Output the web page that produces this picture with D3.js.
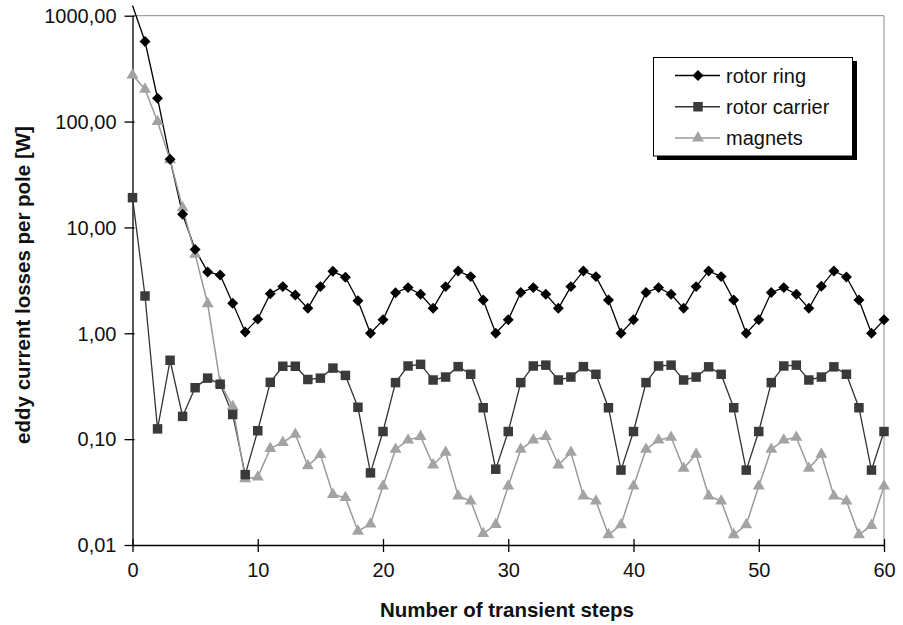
<!DOCTYPE html>
<html>
<head>
<meta charset="utf-8">
<script src="https://cdn.jsdelivr.net/npm/d3@7"></script>
<style>
  html, body { margin: 0; padding: 0; background: #fff; }
  svg { display: block; }
  text { font-family: Arial, "Liberation Sans", sans-serif; }
</style>
</head>
<body>
<svg id="chart" width="903" height="625"></svg>
<script>
const steps = d3.range(0, 61);
const rotorRing = [1250, 570, 166, 44, 13.3, 6.2, 3.8, 3.55, 1.92, 1.03,
  1.36, 2.36, 2.76, 2.30, 1.72, 2.76, 3.85, 3.38, 2.03, 1.00,
  1.34, 2.42, 2.70, 2.34, 1.72, 2.76, 3.88, 3.43, 2.06, 1.00,
  1.34, 2.43, 2.70, 2.34, 1.72, 2.76, 3.88, 3.43, 2.06, 1.00,
  1.34, 2.43, 2.70, 2.34, 1.72, 2.76, 3.88, 3.43, 2.06, 1.00,
  1.34, 2.43, 2.70, 2.34, 1.72, 2.78, 3.88, 3.40, 2.06, 1.00,
  1.34];
const rotorCarrier = [19.1, 2.25, 0.125, 0.556, 0.164, 0.306, 0.377, 0.33, 0.171, 0.0462,
  0.12, 0.344, 0.488, 0.488, 0.366, 0.377, 0.469, 0.40, 0.20, 0.048,
  0.118, 0.342, 0.491, 0.509, 0.362, 0.386, 0.484, 0.41, 0.198, 0.052,
  0.118, 0.342, 0.491, 0.50, 0.362, 0.386, 0.484, 0.41, 0.198, 0.051,
  0.118, 0.342, 0.491, 0.50, 0.362, 0.386, 0.482, 0.41, 0.198, 0.051,
  0.118, 0.342, 0.491, 0.50, 0.362, 0.386, 0.482, 0.41, 0.198, 0.051,
  0.118];
const magnets = [275, 202, 100, 43.6, 15.3, 5.56, 1.90, 0.339, 0.203, 0.0422,
  0.0438, 0.0817, 0.093, 0.111, 0.056, 0.0714, 0.030, 0.028, 0.0135, 0.0158,
  0.036, 0.080, 0.098, 0.106, 0.057, 0.075, 0.029, 0.026, 0.0128, 0.0156,
  0.036, 0.080, 0.098, 0.106, 0.057, 0.075, 0.029, 0.026, 0.0125, 0.0155,
  0.036, 0.080, 0.098, 0.104, 0.053, 0.072, 0.029, 0.026, 0.0125, 0.0155,
  0.036, 0.080, 0.098, 0.104, 0.053, 0.072, 0.029, 0.026, 0.0125, 0.0153,
  0.036];
const yTicks = [0.01, 0.1, 1, 10, 100, 1000];
const yTickLabels = ["0,01", "0,10", "1,00", "10,00", "100,00", "1000,00"];
const xTicks = [0, 10, 20, 30, 40, 50, 60];
const seriesNames = ["rotor ring", "rotor carrier", "magnets"];

(function () {
const series = [
  {name: seriesNames[0], values: rotorRing, line: "#000", fill: "#000", shape: d3.symbolSquare, size: 60, rot: 45, lw: 1.3},
  {name: seriesNames[1], values: rotorCarrier, line: "#333", fill: "#3a3a3a", shape: d3.symbolSquare, size: 90, rot: 0, lw: 1.3},
  {name: seriesNames[2], values: magnets, line: "#9a9a9a", fill: "#a3a3a3", shape: d3.symbolTriangle, size: 62, rot: 0, lw: 1.5}
];

const svg = d3.select("#chart");
const pl = 132.5, pr = 884, pt = 15.7, pb = 545;
const x = d3.scaleLinear().domain([0, 60]).range([pl, pr]);
const y = d3.scaleLog().domain([0.01, 1000]).range([pb, pt]);

// plot frame (top & right grey)
svg.append("line").attr("x1", pl).attr("x2", pr).attr("y1", pt).attr("y2", pt)
  .attr("stroke", "#8a8a8a").attr("stroke-width", 1);
svg.append("line").attr("x1", pr).attr("x2", pr).attr("y1", pt).attr("y2", pb)
  .attr("stroke", "#8a8a8a").attr("stroke-width", 1);

// y axis
const yAxis = d3.axisLeft(y).tickValues(yTicks).tickSizeInner(8).tickSizeOuter(0)
  .tickFormat((d, i) => yTickLabels[i]).tickPadding(8);
const gy = svg.append("g").attr("transform", `translate(${pl},0)`).call(yAxis);
gy.select(".domain").attr("stroke", "#000").attr("stroke-width", 1.3);
gy.selectAll(".tick line").attr("stroke", "#000").attr("stroke-width", 1.3).attr("x2", 2).attr("x1", -8);
gy.selectAll(".tick text").attr("font-size", 20).attr("fill", "#111")
  .attr("font-family", "Arial, 'Liberation Sans', sans-serif").attr("dy", "0.34em").attr("x", -16);

// x axis
const xAxis = d3.axisBottom(x).tickValues(xTicks).tickSizeInner(7).tickSizeOuter(0).tickPadding(10);
const gx = svg.append("g").attr("transform", `translate(0,${pb})`).call(xAxis);
gx.select(".domain").attr("stroke", "#000").attr("stroke-width", 1.3);
gx.selectAll(".tick line").attr("stroke", "#000").attr("stroke-width", 1.3).attr("y1", -6).attr("y2", 7);
gx.selectAll(".tick text").attr("font-size", 20).attr("fill", "#111")
  .attr("font-family", "Arial, 'Liberation Sans', sans-serif").attr("y", 18).attr("dy", "0.71em");

// axis titles
svg.append("text").attr("x", 507).attr("y", 617).attr("text-anchor", "middle")
  .attr("font-weight", "bold").attr("font-size", 20.5).attr("fill", "#111")
  .text("Number of transient steps");
svg.append("text").attr("transform", "translate(30,285) rotate(-90)").attr("text-anchor", "middle")
  .attr("font-weight", "bold").attr("font-size", 20.5).attr("fill", "#111")
  .text("eddy current losses per pole [W]");

// series
const lineGen = d3.line().x((d, i) => x(steps[i])).y(d => y(d));
series.forEach(s => {
  svg.append("path").datum(s.values).attr("d", lineGen)
    .attr("fill", "none").attr("stroke", s.line).attr("stroke-width", s.lw);
});
series.slice().reverse().forEach(s => {
  svg.append("g").selectAll("path")
    .data(s.values.map((v, i) => ({v, i})).filter(d => d.v <= 1000))
    .join("path")
    .attr("transform", d => `translate(${x(steps[d.i])},${y(d.v)}) rotate(${s.rot})`)
    .attr("d", d3.symbol().type(s.shape).size(s.size))
    .attr("fill", s.fill);
});

// legend
const lg = svg.append("g");
lg.append("rect").attr("x", 657).attr("y", 61).attr("width", 200).attr("height", 99).attr("fill", "#000");
lg.append("rect").attr("x", 653.5).attr("y", 57.5).attr("width", 199).attr("height", 98.5)
  .attr("fill", "#fff").attr("stroke", "#000").attr("stroke-width", 1);
const rowY = d3.scaleLinear().domain([0, 2]).range([75.5, 138]);
series.forEach((s, i) => {
  const yy = rowY(i);
  lg.append("line").attr("x1", 675).attr("x2", 720).attr("y1", yy).attr("y2", yy)
    .attr("stroke", s.line).attr("stroke-width", s.lw);
  lg.append("path").attr("transform", `translate(698,${yy}) rotate(${s.rot})`)
    .attr("d", d3.symbol().type(s.shape).size(s.size)).attr("fill", s.fill);
  lg.append("text").attr("x", 726).attr("y", yy).attr("dy", "0.36em")
    .attr("font-size", 20).attr("fill", "#111").text(s.name);
});
})();
</script>
</body>
</html>
